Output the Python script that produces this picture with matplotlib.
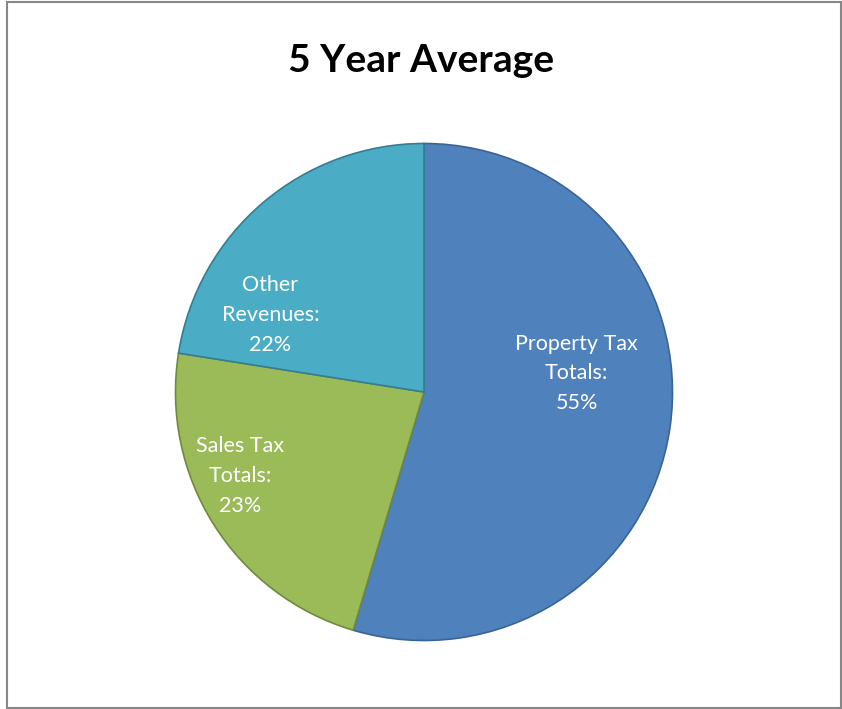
import matplotlib.pyplot as plt
from matplotlib.patches import Rectangle

# data
categories = ['Property Tax\nTotals:', 'Sales Tax\nTotals:', 'Other\nRevenues:']
shares = [54.6, 22.9, 22.5]
pct_labels = ['55%', '23%', '22%']

colors = ['#4F81BD', '#9BBB59', '#4BACC6']
edge_colors = ['#3A6496', '#71893F', '#357D91']
label_pos = [(0.614, 0.076), (-0.741, -0.338), (-0.618, 0.31)]

plt.rcParams['font.family'] = ['Lato', 'DejaVu Sans']

W, H = 842, 709
fig = plt.figure(figsize=(W / 100, H / 100), dpi=100)

# grey frame round the chart area
fig.patches.append(Rectangle((6.5 / W, 1.5 / H), 834 / W, 706 / H, transform=fig.transFigure,
                             fill=False, edgecolor='#878787', linewidth=1.5))

cx, cy, r = 424, 392, 251
ax = fig.add_axes([(cx - r) / W, (H - cy - r) / H, 2 * r / W, 2 * r / H])
wedges, _ = ax.pie(shares, colors=colors, startangle=90, counterclock=False,
                   radius=1, wedgeprops=dict(linewidth=1.2))
for w, ec in zip(wedges, edge_colors):
    w.set_edgecolor(ec)
ax.set_xlim(-1.01, 1.01)
ax.set_ylim(-1.01, 1.01)
ax.set_aspect('equal')
ax.axis('off')

for (x, y), cat, pct in zip(label_pos, categories, pct_labels):
    ax.text(x, y, cat + '\n' + pct, color='white', fontsize=15.5, ha='center', va='center',
            linespacing=1.6)

fig.text(421 / W, 1 - 61 / H, '5 Year Average', fontsize=28, fontweight='bold',
         ha='center', va='center', color='black')

fig.savefig('out.png', dpi=100)
